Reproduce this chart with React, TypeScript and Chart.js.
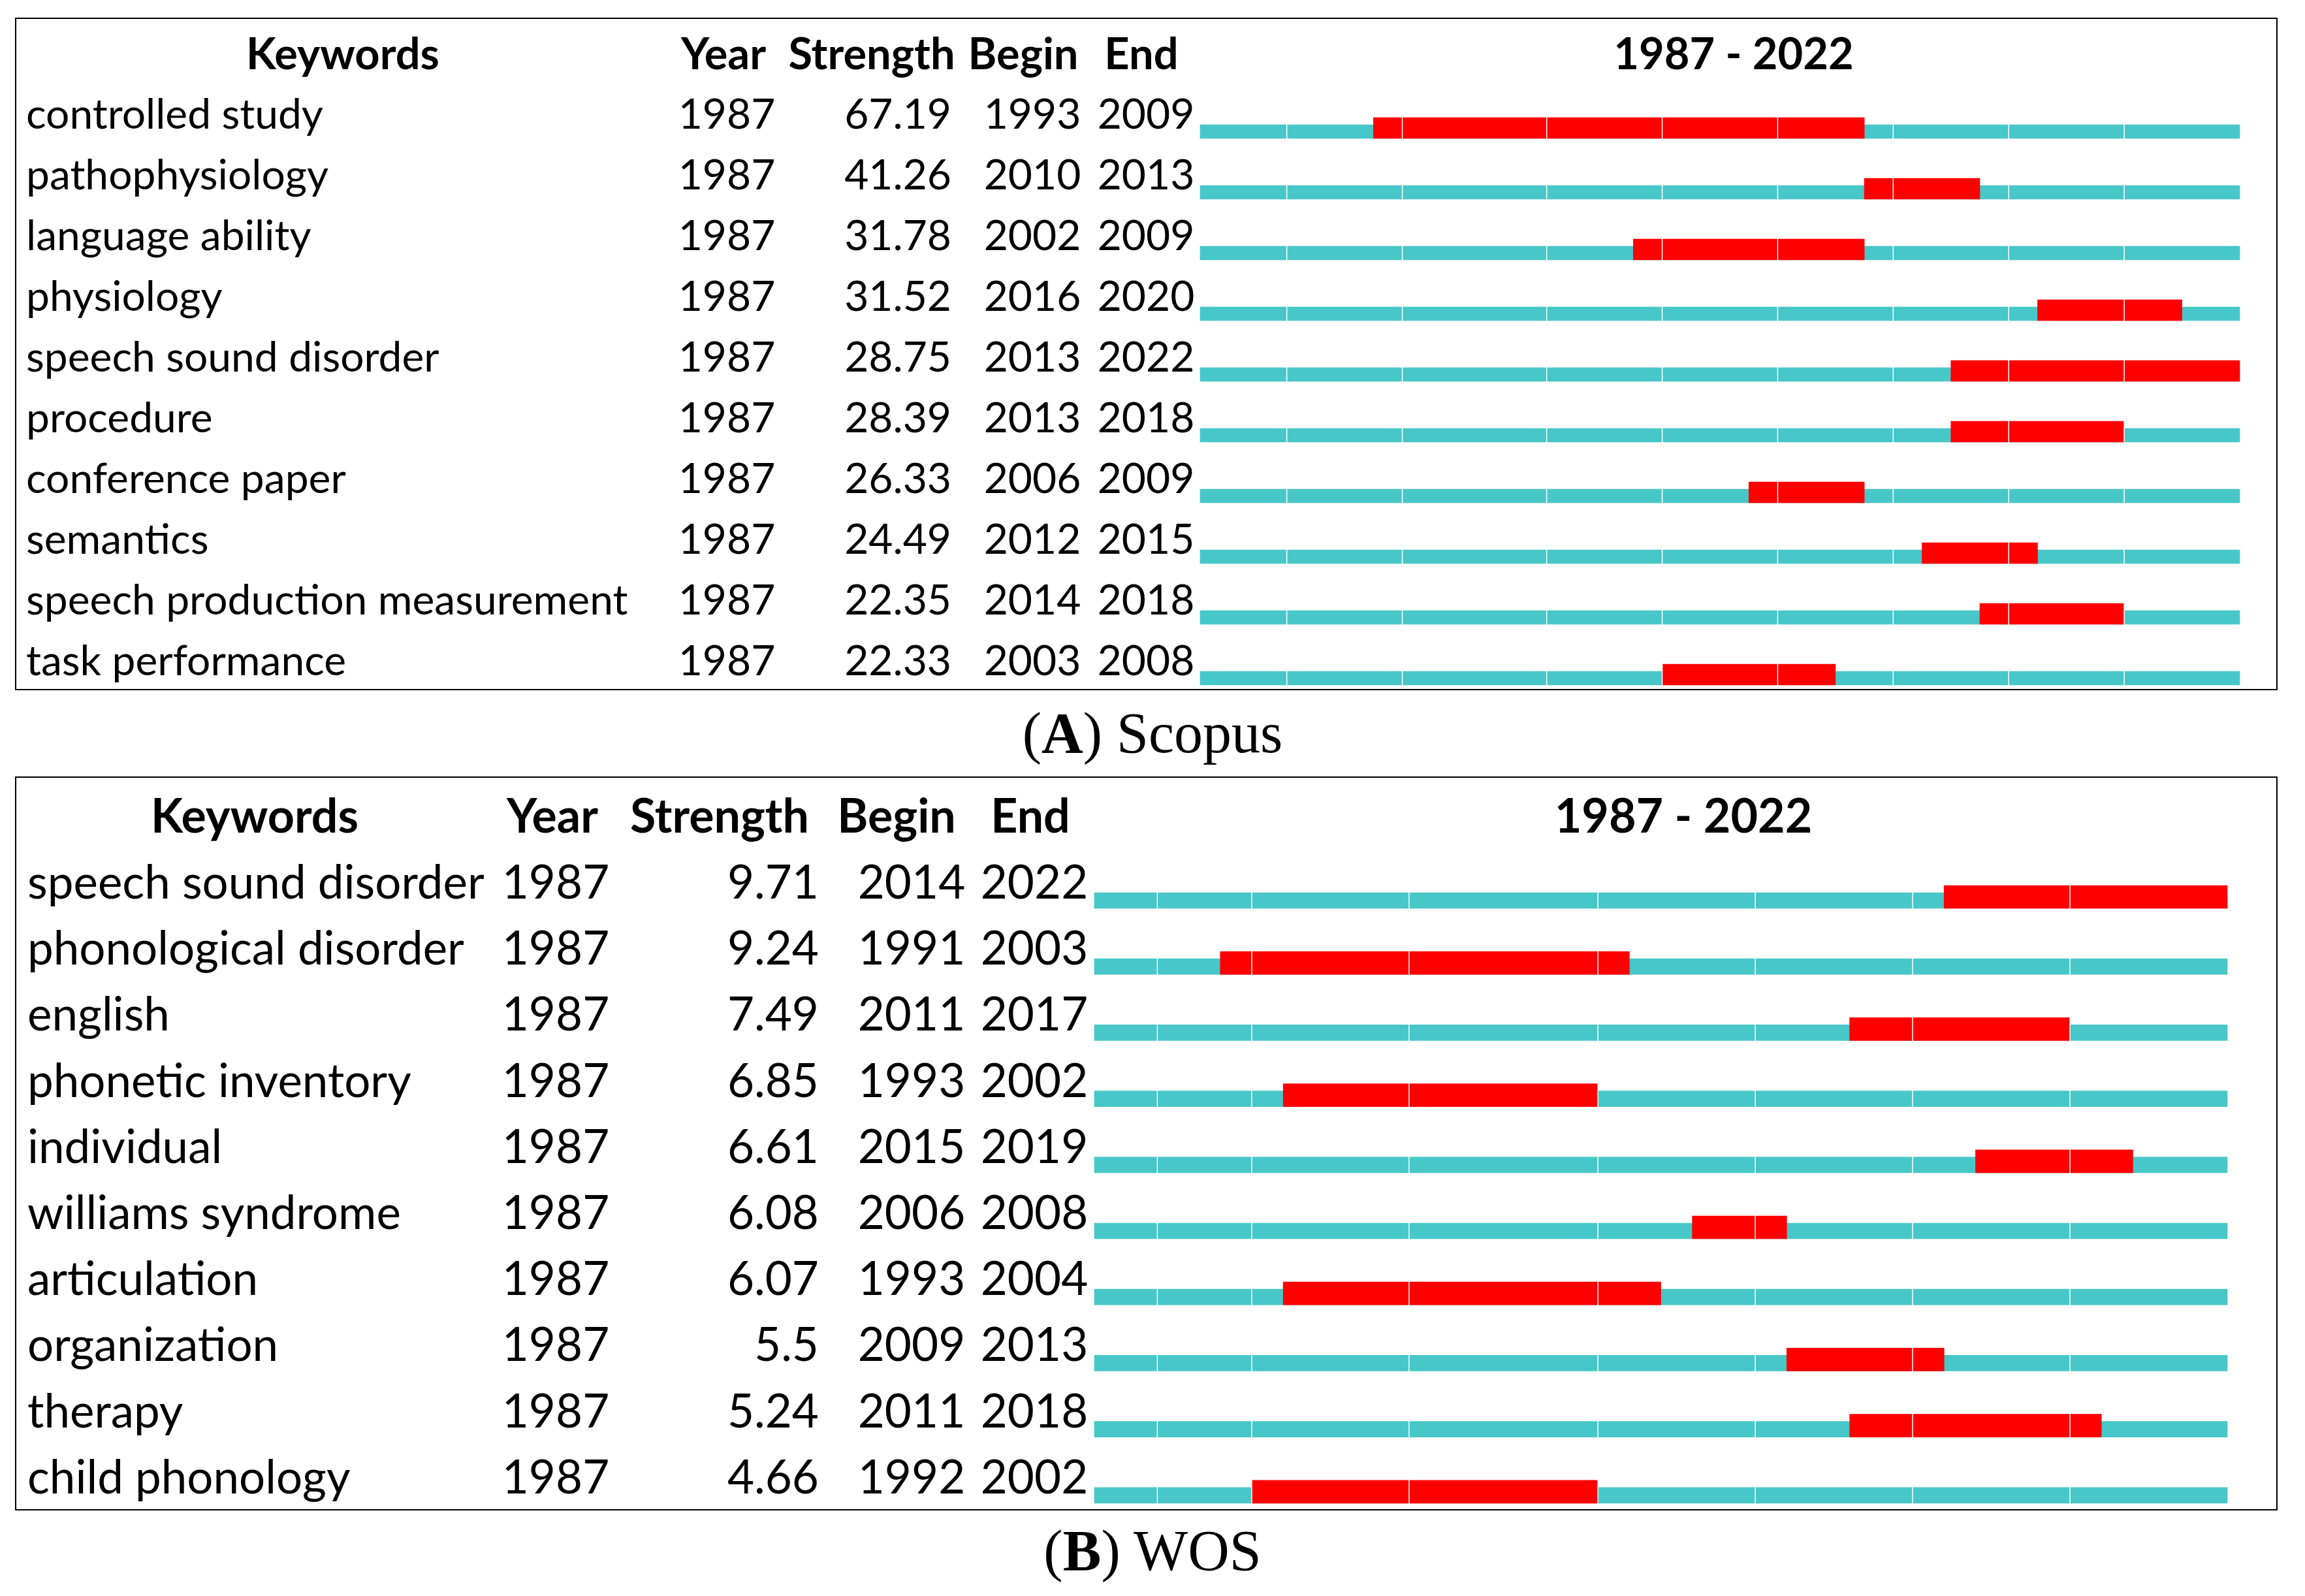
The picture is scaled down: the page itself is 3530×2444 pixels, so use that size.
import React, { useEffect, useRef } from 'react';
import { Chart, registerables } from 'chart.js';

Chart.register(...registerables);

// ---------------- data ----------------
const YEAR_START = 1987;
const YEAR_END = 2022;
const columnHeaders = ['Keywords', 'Year', 'Strength', 'Begin', 'End'];
const rangeLabel = `${YEAR_START} - ${YEAR_END}`;

const scopusKeywords = [
  'controlled study',
  'pathophysiology',
  'language ability',
  'physiology',
  'speech sound disorder',
  'procedure',
  'conference paper',
  'semantics',
  'speech production measurement',
  'task performance',
];
const scopusYears = [1987, 1987, 1987, 1987, 1987, 1987, 1987, 1987, 1987, 1987];
const scopusStrength = ['67.19', '41.26', '31.78', '31.52', '28.75', '28.39', '26.33', '24.49', '22.35', '22.33'];
const scopusBegin = [1993, 2010, 2002, 2016, 2013, 2013, 2006, 2012, 2014, 2003];
const scopusEnd = [2009, 2013, 2009, 2020, 2022, 2018, 2009, 2015, 2018, 2008];
const scopusSliceMarks = [1990, 1994, 1999, 2003, 2007, 2011, 2015, 2019];

const wosKeywords = [
  'speech sound disorder',
  'phonological disorder',
  'english',
  'phonetic inventory',
  'individual',
  'williams syndrome',
  'articulation',
  'organization',
  'therapy',
  'child phonology',
];
const wosYears = [1987, 1987, 1987, 1987, 1987, 1987, 1987, 1987, 1987, 1987];
const wosStrength = ['9.71', '9.24', '7.49', '6.85', '6.61', '6.08', '6.07', '5.5', '5.24', '4.66'];
const wosBegin = [2014, 1991, 2011, 1993, 2015, 2006, 1993, 2009, 2011, 1992];
const wosEnd = [2022, 2003, 2017, 2002, 2019, 2008, 2004, 2013, 2018, 2002];
const wosSliceMarks = [1989, 1992, 1997, 2003, 2008, 2013, 2018];

// ---------------- styles / layout ----------------
const FONT = 'Lato, "Noto Sans", sans-serif';
const CYAN = '#47C7C8';
const RED = '#FF0000';

type Layout = {
  box: { left: number; top: number; width: number; height: number };
  barLeft: number;
  barRight: number;
  row0Bottom: number;
  rowStep: number;
  cyanH: number;
  redH: number;
  textLift: number;
  headerBaseline: number;
  bodyRefWidth: number;
  headRefWidth: number;
  kwX: number;
  kwHeadCx: number;
  yearCx: number;
  yearHeadCx: number;
  strRight: number;
  strHeadCx: number;
  beginCx: number;
  beginHeadCx: number;
  endCx: number;
  endHeadCx: number;
  rangeCx: number;
};

const scopusLayout: Layout = {
  box: { left: 23, top: 27, width: 3465, height: 1030 },
  barLeft: 1838,
  barRight: 3430,
  row0Bottom: 212,
  rowStep: 93,
  cyanH: 21,
  redH: 32,
  textLift: 15,
  headerBaseline: 106,
  bodyRefWidth: 455,
  headRefWidth: 296,
  kwX: 40,
  kwHeadCx: 525,
  yearCx: 1113,
  yearHeadCx: 1108,
  strRight: 1457,
  strHeadCx: 1335,
  beginCx: 1581,
  beginHeadCx: 1567,
  endCx: 1755,
  endHeadCx: 1748,
  rangeCx: 2655,
};

const wosLayout: Layout = {
  box: { left: 23, top: 1189, width: 3465, height: 1124 },
  barLeft: 1676,
  barRight: 3411,
  row0Bottom: 1391,
  rowStep: 101.2,
  cyanH: 24,
  redH: 35,
  textLift: 15,
  headerBaseline: 1275,
  bodyRefWidth: 700,
  headRefWidth: 318,
  kwX: 42,
  kwHeadCx: 390,
  yearCx: 851,
  yearHeadCx: 846,
  strRight: 1254,
  strHeadCx: 1102,
  beginCx: 1396,
  beginHeadCx: 1373,
  endCx: 1584,
  endHeadCx: 1578,
  rangeCx: 2578,
};

function fitSize(ctx: CanvasRenderingContext2D, weight: string, text: string, width: number) {
  ctx.font = `${weight} 100px ${FONT}`;
  const w = ctx.measureText(text).width || 1;
  return (100 * width) / w;
}

type PanelProps = {
  keywords: string[];
  years: number[];
  strength: string[];
  begin: number[];
  end: number[];
  marks: number[];
  L: Layout;
};

function BurstPanel({ keywords, years, strength, begin, end, marks, L }: PanelProps) {
  const ref = useRef<HTMLCanvasElement | null>(null);

  useEffect(() => {
    const canvas = ref.current;
    if (!canvas) return;
    const W = L.box.width;
    const H = L.box.height;
    const padLeft = L.barLeft - L.box.left;
    const padRight = L.box.left + W - L.barRight;
    const bottomRel = L.row0Bottom - L.box.top;
    const T = Math.round(bottomRel - L.redH - 14);
    const padBottom = 4;
    const B = H - padBottom;
    const span = (B - T) / L.rowStep;
    const cyanMin = (T - (bottomRel - L.cyanH / 2)) / L.rowStep;
    const redMin = (T - (bottomRel - L.redH / 2)) / L.rowStep;
    const idx = keywords.map((_, i) => i);

    const slicePlugin = {
      id: 'sliceMarks',
      afterDatasetsDraw(chart: any) {
        const { ctx, chartArea } = chart;
        const xs = chart.scales.x;
        ctx.save();
        ctx.strokeStyle = '#FFFFFF';
        ctx.lineWidth = 1.5;
        marks.forEach((yr) => {
          const x = xs.getPixelForValue(yr);
          ctx.beginPath();
          ctx.moveTo(x, chartArea.top);
          ctx.lineTo(x, chartArea.bottom);
          ctx.stroke();
        });
        ctx.restore();
      },
    };

    const textPlugin = {
      id: 'burstText',
      afterDraw(chart: any) {
        const ctx: CanvasRenderingContext2D = chart.ctx;
        const bodySize = fitSize(ctx, 'normal', keywords[0], L.bodyRefWidth);
        const headSize = fitSize(ctx, 'bold', columnHeaders[0], L.headRefWidth);
        const ox = L.box.left;
        const oy = L.box.top;
        ctx.save();
        ctx.fillStyle = '#000000';
        ctx.textBaseline = 'alphabetic';
        ctx.font = `bold ${headSize}px ${FONT}`;
        ctx.textAlign = 'center';
        const hb = L.headerBaseline - oy;
        const heads = [L.kwHeadCx, L.yearHeadCx, L.strHeadCx, L.beginHeadCx, L.endHeadCx];
        columnHeaders.forEach((h, i) => ctx.fillText(h, heads[i] - ox, hb));
        ctx.fillText(rangeLabel, L.rangeCx - ox, hb);

        ctx.font = `normal ${bodySize}px ${FONT}`;
        const ys = chart.scales.y;
        idx.forEach((i) => {
          const base = ys.getPixelForValue(i) + L.cyanH / 2 - L.textLift;
          ctx.textAlign = 'left';
          ctx.fillText(keywords[i], L.kwX - ox, base);
          ctx.textAlign = 'center';
          ctx.fillText(String(years[i]), L.yearCx - ox, base);
          ctx.textAlign = 'right';
          ctx.fillText(strength[i], L.strRight - ox, base);
          ctx.textAlign = 'center';
          ctx.fillText(String(begin[i]), L.beginCx - ox, base);
          ctx.fillText(String(end[i]), L.endCx - ox, base);
        });
        ctx.restore();
      },
    };

    const chart = new Chart(canvas, {
      type: 'bar',
      data: {
        datasets: [
          {
            label: 'burst',
            data: idx.map((i) => ({ x: [begin[i], end[i] + 1], y: i })) as any,
            backgroundColor: RED,
            borderWidth: 0,
            borderSkipped: false,
            barThickness: L.redH,
            grouped: false,
            order: 1,
            xAxisID: 'x',
            yAxisID: 'yRed',
            clip: false as any,
          },
          {
            label: 'span',
            data: idx.map((i) => ({ x: [years[i], YEAR_END + 1], y: i })) as any,
            backgroundColor: CYAN,
            borderWidth: 0,
            borderSkipped: false,
            barThickness: L.cyanH,
            grouped: false,
            order: 2,
            xAxisID: 'x',
            yAxisID: 'y',
            clip: false as any,
          },
        ],
      },
      options: {
        indexAxis: 'y',
        responsive: false,
        maintainAspectRatio: false,
        animation: false,
        devicePixelRatio: 1,
        events: [],
        layout: { padding: { left: padLeft, right: padRight, top: T, bottom: padBottom } },
        plugins: { legend: { display: false }, tooltip: { enabled: false }, title: { display: false } },
        scales: {
          x: { type: 'linear', min: YEAR_START, max: YEAR_END + 1, display: false, offset: false },
          y: { type: 'linear', reverse: true, min: cyanMin, max: cyanMin + span, display: false, offset: false },
          yRed: { type: 'linear', axis: 'y', reverse: true, min: redMin, max: redMin + span, display: false, offset: false },
        } as any,
      },
      plugins: [slicePlugin, textPlugin],
    });

    let alive = true;
    if ((document as any).fonts && (document as any).fonts.load) {
      Promise.all([
        (document as any).fonts.load(`70px Lato`),
        (document as any).fonts.load(`bold 70px Lato`),
      ]).then(() => {
        if (alive) chart.draw();
      }).catch(() => {});
    }
    return () => {
      alive = false;
      chart.destroy();
    };
  }, []);

  const b = L.box;
  return (
    <>
      <div
        style={{
          position: 'absolute',
          left: b.left,
          top: b.top,
          width: b.width,
          height: b.height,
          boxSizing: 'border-box',
          border: '2.5px solid #000',
        }}
      />
      <canvas
        ref={ref}
        width={b.width}
        height={b.height}
        style={{ position: 'absolute', left: b.left, top: b.top, width: b.width, height: b.height }}
      />
    </>
  );
}

const captionStyle: React.CSSProperties = {
  position: 'absolute',
  left: 0,
  width: 3530,
  textAlign: 'center',
  fontFamily: '"Liberation Serif", "Times New Roman", serif',
  fontSize: 88,
  lineHeight: '88px',
  whiteSpace: 'nowrap',
  color: '#000',
};

export default function App() {
  return (
    <div style={{ position: 'absolute', left: 0, top: 0, width: 3530, height: 2444, background: '#fff', overflow: 'hidden' }}>
      <BurstPanel
        keywords={scopusKeywords}
        years={scopusYears}
        strength={scopusStrength}
        begin={scopusBegin}
        end={scopusEnd}
        marks={scopusSliceMarks}
        L={scopusLayout}
      />
      <div style={{ ...captionStyle, top: 1079 }}>
        (<b>A</b>) Scopus
      </div>
      <BurstPanel
        keywords={wosKeywords}
        years={wosYears}
        strength={wosStrength}
        begin={wosBegin}
        end={wosEnd}
        marks={wosSliceMarks}
        L={wosLayout}
      />
      <div style={{ ...captionStyle, top: 2331 }}>
        (<b>B</b>) WOS
      </div>
    </div>
  );
}
